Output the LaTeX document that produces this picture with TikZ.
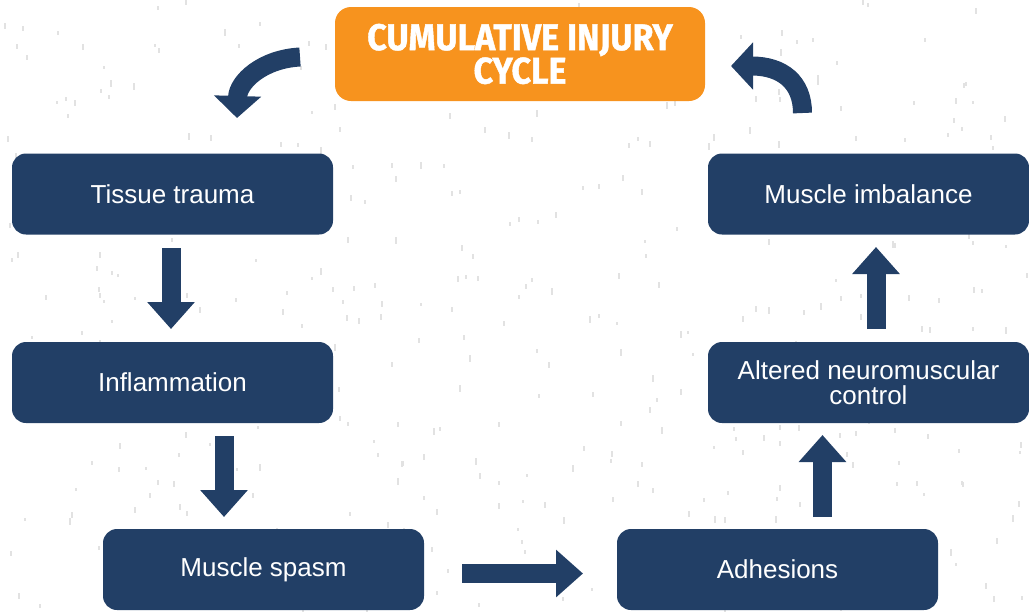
\documentclass[tikz,border=0pt]{standalone}
\usepackage{fontspec}
\setmainfont{Liberation Sans}
\newfontfamily\titlefont[FakeStretch=0.92,FakeBold=1.2]{Fira Sans}
\usetikzlibrary{arrows.meta}
\definecolor{navy}{HTML}{223F66}
\definecolor{cycleorange}{HTML}{F7931E}
\definecolor{speck}{HTML}{E2E2E2}
\begin{document}
\begin{tikzpicture}[x=1pt,y=-1pt,
  stepbox/.style={fill=navy,rounded corners=14pt,minimum width=321pt,minimum height=81pt,
    text=white,align=center,font=\fontsize{26}{25}\selectfont,inner sep=0pt},
  titlebox/.style={fill=cycleorange,rounded corners=16pt,minimum width=370pt,minimum height=94pt,
    text=white,align=center,font=\titlefont\bfseries\fontsize{37}{31}\selectfont,inner sep=0pt},
  blockarrow/.style={navy,line width=19pt,-{Triangle[length=27pt,width=46pt]}},
  bentarrow/.style={navy,line width=19pt,-{Triangle[length=22pt,width=46pt]}}
]
\useasboundingbox (0,0) rectangle (1029,611);
% light speckled paper texture
\pgfmathsetseed{4711}
\foreach \i in {1,...,420}{
  \pgfmathsetmacro{\px}{rnd*1029}
  \pgfmathsetmacro{\py}{rnd*611}
  \fill[speck] (\px,\py) rectangle ++(2,{3+4*rnd});
}
% title and stages of the cycle
\node[titlebox] (title) at (520,54) {CUMULATIVE INJURY\\CYCLE};
\node[stepbox] (trauma) at (172.5,194) {Tissue trauma};
\node[stepbox] (inflam) at (172.5,382.5) {Inflammation};
\node[stepbox] (spasm) at (263.5,569.5) {Muscle spasm};
\node[stepbox] (adhes) at (777.5,569.5) {Adhesions};
\node[stepbox] (neuro) at (868.5,382.5) {Altered neuromuscular\\control};
\node[stepbox] (imbal) at (868.5,194) {Muscle imbalance};
% straight block arrows between stages
\coordinate (a1s) at (171,248); \coordinate (a1e) at (171,329);
\coordinate (a2s) at (224,436); \coordinate (a2e) at (224,517);
\coordinate (a3s) at (462,573.5); \coordinate (a3e) at (583,573.5);
\coordinate (a4s) at (822.5,517); \coordinate (a4e) at (822.5,435);
\coordinate (a5s) at (876,329); \coordinate (a5e) at (876,247);
\draw[blockarrow] (a1s) -- (a1e);
\draw[blockarrow] (a2s) -- (a2e);
\draw[blockarrow] (a3s) -- (a3e);
\draw[blockarrow] (a4s) -- (a4e);
\draw[blockarrow] (a5s) -- (a5e);
% curved arrows around the title
\coordinate (c1s) at (300,57); \coordinate (c1e) at (237,118);
\coordinate (c2s) at (802.5,113); \coordinate (c2e) at (731,66);
\draw[bentarrow] (c1s) .. controls (262,59) and (238,82) .. (c1e);
\draw[bentarrow] (c2s) .. controls (802.5,82) and (782,66) .. (c2e);
\end{tikzpicture}
\end{document}
